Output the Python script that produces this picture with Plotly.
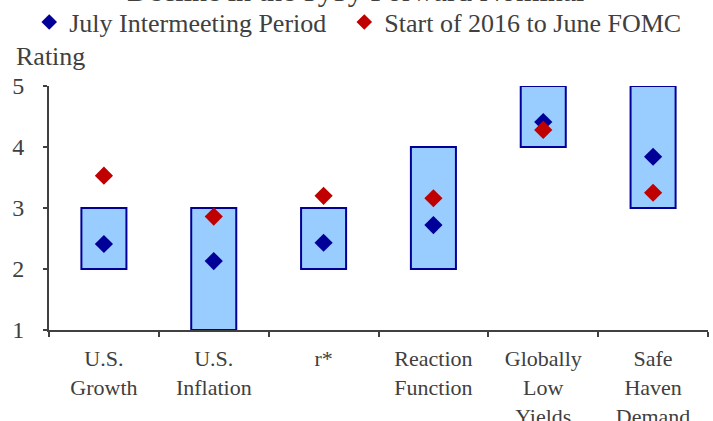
import plotly.graph_objects as go

# factors and the rating ranges (low/high) plus the two diamond series
factors = ["U.S.<br>Growth", "U.S.<br>Inflation", "r*", "Reaction<br>Function",
           "Globally<br>Low<br>Yields", "Safe<br>Haven<br>Demand"]
range_low = [2, 1, 2, 2, 4, 3]
range_high = [3, 3, 3, 4, 5, 5]
july_period = [2.41, 2.13, 2.43, 2.72, 4.41, 3.84]
start_2016 = [3.53, 2.86, 3.20, 3.16, 4.28, 3.25]

FONT = "Liberation Serif, Times New Roman, serif"
TXT = "#404040"

bar_heights = [h - l for h, l in zip(range_high, range_low)]

fig = go.Figure()

fig.add_trace(go.Bar(
    x=factors,
    y=bar_heights,
    base=range_low,
    width=0.41,
    marker=dict(color="#99CCFF", line=dict(color="#000099", width=2)),
    showlegend=False,
    hoverinfo="skip",
))

fig.add_trace(go.Scatter(
    x=factors, y=july_period, mode="markers",
    marker=dict(symbol="diamond", size=14, color="#000099"),
    # trailing nbsp widens the first legend entry a little
    name="July Intermeeting Period\u00a0\u00a0",
))

fig.add_trace(go.Scatter(
    x=factors, y=start_2016, mode="markers",
    marker=dict(symbol="diamond", size=14, color="#C00000"),
    name="Start of 2016 to June FOMC",
))

fig.update_layout(
    width=713,
    height=421,
    margin=dict(l=49, r=5, t=86, b=91, autoexpand=False),
    plot_bgcolor="white",
    paper_bgcolor="white",
    font=dict(family=FONT, color=TXT, size=23),
    legend=dict(
        orientation="h",
        x=-0.030, xanchor="left",
        y=1.262, yanchor="middle",
        font=dict(size=26, color=TXT),
        itemsizing="constant",
        bgcolor="rgba(0,0,0,0)",
    ),
    annotations=[
        dict(text="Decline in the 5y5y Forward Nominal", xref="paper", yref="paper",
             x=0.465, y=1.39, xanchor="center", yanchor="middle", showarrow=False,
             font=dict(size=30, color=TXT)),
        dict(text="Rating", xref="paper", yref="paper",
             x=-0.053, y=1.119, xanchor="left", yanchor="middle", showarrow=False,
             font=dict(size=26, color=TXT)),
    ],
    bargap=0.59,
)

fig.update_xaxes(
    showline=True, linecolor=TXT, linewidth=2,
    ticks="outside", tickson="boundaries", ticklen=5, tickwidth=2, tickcolor=TXT,
    showgrid=False, zeroline=False, automargin=False,
    tickfont=dict(size=22, color=TXT),
    ticklabelstandoff=8,
)

fig.update_yaxes(
    range=[1, 5], tickvals=[1, 2, 3, 4, 5],
    showline=True, linecolor=TXT, linewidth=2,
    ticks="outside", ticklen=4, tickwidth=2, tickcolor=TXT,
    showgrid=False, zeroline=False, automargin=False,
    tickfont=dict(size=24, color=TXT),
    ticklabelstandoff=14,
)

# the page's default body margin would shift the figure by 8px
fig.write_html("out.html", config={"displayModeBar": False},
               post_script="document.body.style.margin = '0';")
